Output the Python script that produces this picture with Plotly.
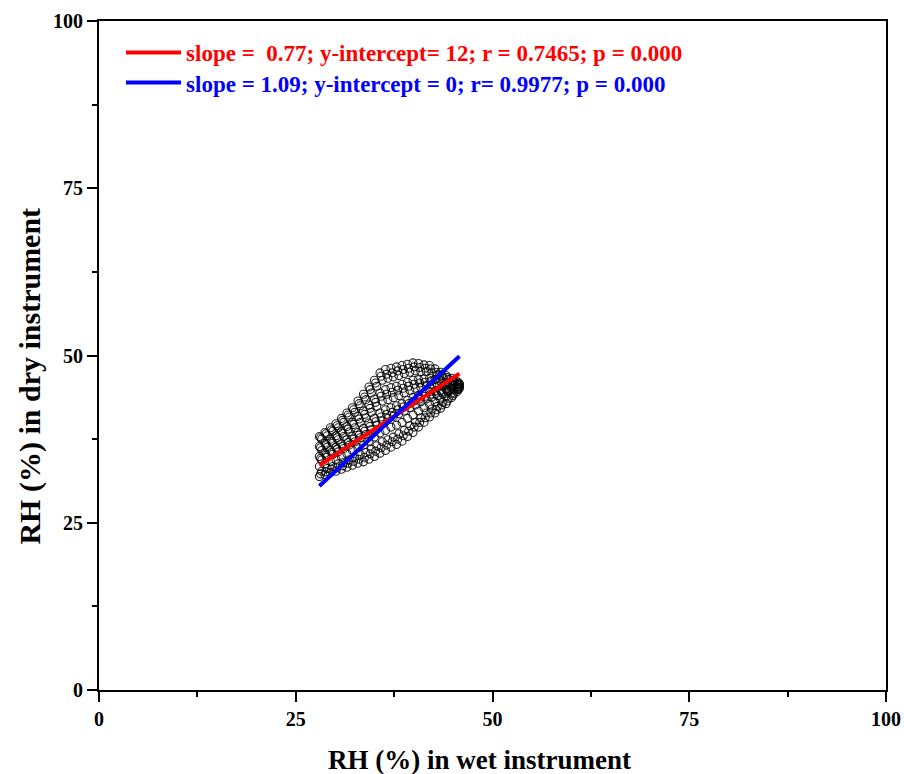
import plotly.graph_objects as go

# ---------------- data ----------------
wet_a = [28.0, 28.7, 29.4, 30.1, 30.8, 31.5, 32.2, 32.9, 33.6, 34.3, 35.0, 35.7, 36.4,
         37.1, 37.8, 38.5, 39.2, 39.9, 40.6, 41.3, 42.0, 42.7, 43.4, 44.1, 44.8, 45.5]
wet_b = [28.3, 29.0, 29.7, 30.4, 31.1, 31.8, 32.5, 33.2, 33.9, 34.6, 35.3, 36.0, 36.7,
         37.4, 38.1, 38.8, 39.5, 40.2, 40.9, 41.6, 42.3, 43.0, 43.7, 44.4, 45.1, 45.8]
wet_c = [28.15, 28.85, 29.55, 30.25, 30.95, 31.65, 32.35, 33.05, 33.75, 34.45, 35.15, 35.85,
         36.55, 37.25, 37.95, 38.65, 39.35, 40.05, 40.75, 41.45, 42.15, 42.85, 43.55, 44.25,
         44.95, 45.65]

# dry-instrument RH along each streak of the cloud (a: wet_a, b: wet_b, c: wet_c)
dry_a0 = [31.9, 32.2, 32.5, 32.7, 33.0, 33.3, 33.6, 33.9, 34.1, 34.5, 34.9, 35.4, 35.8,
          36.3, 36.7, 37.2, 37.9, 38.5, 39.3, 40.0, 40.8, 41.4, 42.1, 42.8, 43.7, 44.6]
dry_a1 = [33.4, 33.8, 34.2, 34.5, 34.9, 35.3, 35.8, 36.2, 36.6, 37.2, 37.8, 38.4, 38.8,
          39.3, 39.6, 40.0, 40.6, 41.1, 41.7, 42.2, 42.7, 43.1, 43.5, 43.9, 44.4, 45.0]
dry_a2 = [34.9, 35.4, 35.8, 36.3, 36.8, 37.4, 37.9, 38.5, 39.1, 39.9, 40.6, 41.4, 41.9,
          42.2, 42.5, 42.8, 43.3, 43.7, 44.0, 44.3, 44.6, 44.7, 44.8, 44.9, 45.1, 45.3]
dry_a3 = [36.4, 36.9, 37.5, 38.0, 38.7, 39.4, 40.0, 40.9, 41.7, 42.6, 43.5, 44.4, 44.9,
          45.2, 45.4, 45.7, 46.0, 46.3, 46.4, 46.5, 46.6, 46.4, 46.2, 46.0, 45.9, 45.7]
dry_a4 = [37.9, 38.5, 39.2, 39.8, 40.6, 41.4, 42.2, 43.2, 44.2, 45.3, 46.3, 47.4, 47.9,
          48.1, 48.3, 48.5, 48.7, 48.9, 48.8, 48.6, 48.5, 48.0, 47.5, 47.0, 46.6, 46.1]
dry_b0 = [32.7, 33.1, 33.4, 33.8, 34.0, 34.4, 34.8, 35.2, 35.5, 36.0, 36.5, 37.1, 37.4,
          37.8, 38.3, 38.8, 39.5, 40.0, 40.7, 41.4, 42.0, 42.4, 43.0, 43.6, 44.3, 45.1]
dry_b1 = [34.4, 34.8, 35.2, 35.6, 36.1, 36.6, 37.1, 37.7, 38.2, 38.9, 39.6, 40.2, 40.6,
          40.9, 41.3, 41.7, 42.2, 42.6, 43.1, 43.5, 43.8, 44.0, 44.3, 44.6, 44.9, 45.3]
dry_b2 = [35.8, 36.3, 36.9, 37.4, 37.9, 38.6, 39.2, 40.0, 40.7, 41.5, 42.4, 43.2, 43.4,
          43.7, 44.0, 44.4, 44.8, 45.1, 45.2, 45.5, 45.6, 45.5, 45.4, 45.4, 45.5, 45.6]
dry_b3 = [37.5, 38.0, 38.7, 39.2, 40.0, 40.8, 41.5, 42.5, 43.4, 44.4, 45.4, 46.3, 46.6,
          46.8, 47.0, 47.3, 47.5, 47.7, 47.6, 47.6, 47.4, 47.1, 46.7, 46.4, 46.1, 45.8]
dry_c0 = [32.3, 32.6, 33.0, 33.2, 33.5, 33.9, 34.2, 34.5, 34.8, 35.3, 35.7, 36.2, 36.6,
          37.1, 37.5, 38.0, 38.7, 39.3, 40.0, 40.7, 41.4, 41.9, 42.6, 43.2, 44.0, 44.9]
dry_c1 = [34.6, 35.1, 35.5, 36.0, 36.4, 37.0, 37.5, 38.1, 38.7, 39.4, 40.1, 40.8, 41.2,
          41.5, 41.9, 42.3, 42.8, 43.2, 43.5, 43.9, 44.2, 44.3, 44.5, 44.7, 45.0, 45.3]
dry_c2 = [36.2, 36.7, 37.2, 37.7, 38.4, 39.0, 39.7, 40.5, 41.2, 42.1, 43.0, 43.9, 44.2,
          44.5, 44.8, 45.1, 45.4, 45.7, 45.9, 46.0, 46.1, 45.9, 45.8, 45.7, 45.7, 45.6]
dry_c3 = [37.7, 38.3, 38.9, 39.5, 40.3, 41.1, 41.9, 42.8, 43.8, 44.9, 45.9, 46.9, 47.2,
          47.4, 47.7, 47.9, 48.1, 48.3, 48.2, 48.1, 48.0, 47.5, 47.1, 46.7, 46.3, 45.9]

fit_x = [28.0, 45.8]
fit_red_y = [33.6, 47.3]     # slope 0.77, intercept 12
fit_blue_y = [30.5, 49.9]    # slope 1.09, intercept 0

red_label = "slope =\u00a0\u00a00.77; y-intercept= 12; r = 0.7465; p = 0.000"
blue_label = "slope = 1.09; y-intercept = 0; r= 0.9977; p = 0.000"

ticks = [0, 25, 50, 75, 100]
x_title = "RH (%) in wet instrument"
y_title = "RH (%) in dry instrument"

# ---------------- build ----------------
streaks = [(wet_a, dry_a0), (wet_a, dry_a1), (wet_a, dry_a2), (wet_a, dry_a3), (wet_a, dry_a4),
           (wet_b, dry_b0), (wet_b, dry_b1), (wet_b, dry_b2), (wet_b, dry_b3),
           (wet_c, dry_c0), (wet_c, dry_c1), (wet_c, dry_c2), (wet_c, dry_c3)]
scatter_x, scatter_y = [], []
for xs, ys in streaks:
    scatter_x += xs
    scatter_y += ys

FONT = "Liberation Serif"

fig = go.Figure()
fig.add_trace(go.Scatter(
    x=scatter_x, y=scatter_y, mode="markers", showlegend=False,
    marker=dict(symbol="circle-open", size=8, color="rgba(0,0,0,0.85)",
                line=dict(width=1.1))))
fig.add_trace(go.Scatter(
    x=fit_x, y=fit_red_y, mode="lines", line=dict(color="#ff0000", width=4),
    name="<b><span style='color:#ff0000'>" + red_label + "</span></b>",
    legend="legend"))
fig.add_trace(go.Scatter(
    x=fit_x, y=fit_blue_y, mode="lines", line=dict(color="#0000ff", width=4),
    name="<b><span style='color:#0000ff'>" + blue_label + "</span></b>",
    legend="legend2"))

axis_common = dict(
    range=[0, 100], tickvals=ticks, ticktext=[str(t) for t in ticks],
    showgrid=False, zeroline=False, automargin=False,
    showline=True, linecolor="black", linewidth=2, mirror=True,
    ticks="outside", ticklen=10, tickwidth=2, tickcolor="black",
    tickfont=dict(family=FONT, size=20, color="black", weight="bold"),
    minor=dict(dtick=12.5, ticks="outside", ticklen=5, tickwidth=2, tickcolor="black",
               showgrid=False),
)

legend_common = dict(xanchor="left", yanchor="top", bgcolor="rgba(0,0,0,0)",
                     font=dict(family=FONT, size=23), itemwidth=55)

fig.update_layout(
    width=904, height=774,
    margin=dict(l=99, r=18, t=21, b=84),
    paper_bgcolor="white", plot_bgcolor="white",
    font=dict(family=FONT, color="black"),
    xaxis=dict(axis_common),
    yaxis=dict(axis_common),
    legend=dict(legend_common, x=0.028, y=0.985),
    legend2=dict(legend_common, x=0.028, y=0.940),
    annotations=[
        dict(text="<b>" + x_title + "</b>", xref="paper", yref="paper",
             x=0.484, y=-0.1046, xanchor="center", yanchor="middle", showarrow=False,
             font=dict(family=FONT, size=27, color="black")),
        dict(text="<b>" + y_title + "</b>", xref="paper", yref="paper",
             x=-0.0877, y=0.470, xanchor="center", yanchor="middle", showarrow=False,
             textangle=-90, font=dict(family=FONT, size=30, color="black")),
    ],
)

fig.write_html(
    "out.html",
    config={"displayModeBar": False},
    post_script="document.body.style.margin='0';document.body.style.overflow='hidden';",
)
